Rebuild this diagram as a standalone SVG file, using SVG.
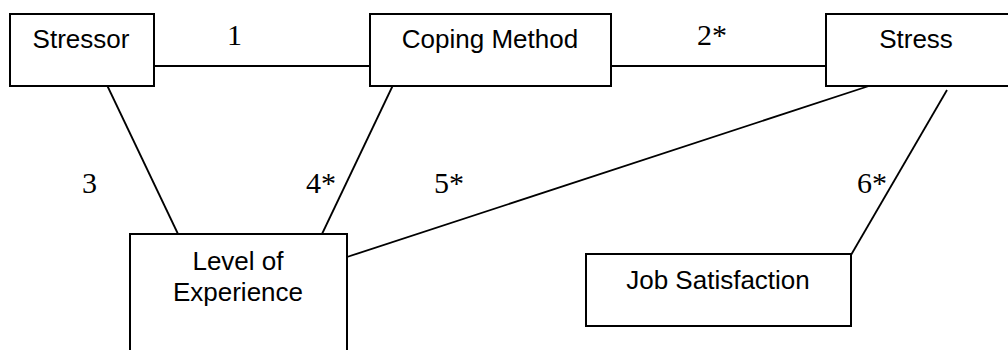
<svg xmlns="http://www.w3.org/2000/svg" width="1008" height="350" viewBox="0 0 1008 350">
<style>
.box{fill:#fff;stroke:#000;stroke-width:2}
.lbl{font-family:"Liberation Sans",Arial,sans-serif;font-size:26px;fill:#000;text-anchor:middle}
.num{font-family:"Liberation Serif","Times New Roman",serif;font-size:30px;fill:#000}
.conn line{stroke:#000;stroke-width:1.8}
</style>
<rect width="1008" height="350" fill="#fff"/>
<g class="conn" id="connectors">
<line x1="154" y1="66" x2="370" y2="66"/>
<line x1="611" y1="66" x2="826" y2="66"/>
<line x1="106" y1="83" x2="178" y2="234"/>
<line x1="394" y1="83" x2="322" y2="234"/>
<line x1="875" y1="84" x2="347" y2="257"/>
<line x1="947" y1="90" x2="851" y2="255"/>
</g>
<g id="edge-labels">
<text class="num" x="227" y="45">1</text>
<text class="num" x="697" y="45">2*</text>
<text class="num" x="82" y="193">3</text>
<text class="num" x="306" y="193">4*</text>
<text class="num" x="434" y="193">5*</text>
<text class="num" x="857" y="193">6*</text>
</g>
<g id="stressor">
<rect class="box" x="10" y="14" width="144" height="72"/>
<text class="lbl" x="81" y="48">Stressor</text>
</g>
<g id="coping">
<rect class="box" x="370" y="14" width="241" height="72"/>
<text class="lbl" x="490" y="48">Coping Method</text>
</g>
<g id="stress">
<rect class="box" x="826" y="14" width="186" height="72"/>
<text class="lbl" x="916" y="48">Stress</text>
</g>
<g id="experience">
<rect class="box" x="130" y="234" width="217" height="130"/>
<text class="lbl" x="238" y="270">Level of</text>
<text class="lbl" x="238" y="301">Experience</text>
</g>
<g id="jobsat">
<rect class="box" x="586" y="254" width="265" height="72"/>
<text class="lbl" x="718" y="289">Job Satisfaction</text>
</g>
</svg>
